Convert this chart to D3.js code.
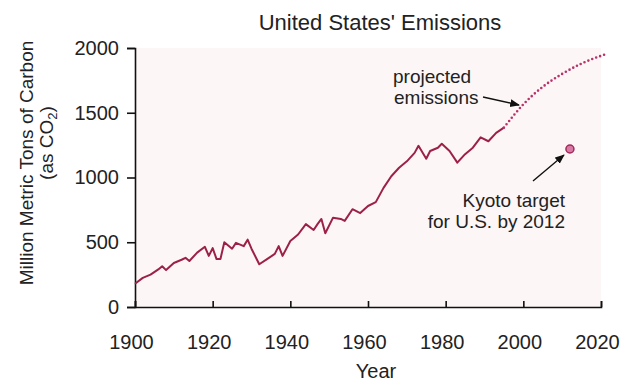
<!DOCTYPE html>
<html>
<head>
<meta charset="utf-8">
<script src="https://cdn.jsdelivr.net/npm/d3@7"></script>
<style>
  body { margin: 0; background: #fff; }
  svg text { font-family: "Liberation Sans", Arial, Helvetica, sans-serif; fill: #222; }
</style>
</head>
<body>
<svg id="chart" width="620" height="381"></svg>
<script>
// historical emissions
const years = [1900, 1902, 1904, 1906, 1907, 1908, 1910, 1912, 1913, 1914, 1916, 1918, 1919, 1920,
  1921, 1922, 1923, 1925, 1926, 1928, 1929, 1930, 1932, 1934, 1936, 1937, 1938, 1940, 1942, 1944,
  1946, 1947, 1948, 1949, 1951, 1953, 1954, 1956, 1958, 1960, 1962, 1964, 1966, 1968, 1970, 1972,
  1973, 1975, 1976, 1978, 1979, 1981, 1983, 1985, 1987, 1989, 1991, 1993, 1995];
const emissions = [180, 225, 250, 290, 315, 285, 340, 365, 380, 355, 420, 465, 395, 455,
  370, 370, 500, 450, 495, 470, 520, 450, 330, 370, 410, 470, 395, 510, 560, 640,
  595, 640, 680, 570, 690, 680, 665, 755, 725, 780, 810, 920, 1010, 1075, 1125, 1190,
  1245, 1145, 1205, 1230, 1260, 1205, 1115, 1180, 1230, 1310, 1280, 1345, 1385];

// projection (dotted)
const projYears = [1995, 2000, 2005, 2010, 2015, 2021];
const projValues = [1385, 1565, 1700, 1800, 1880, 1950];

// Kyoto target point
const kyotoYear = 2012;
const kyotoValue = 1220;

const xTicks = [1900, 1920, 1940, 1960, 1980, 2000, 2020];
const yTicks = [0, 500, 1000, 1500, 2000];

const lineColor = "#9c2147";

let svg = d3.select("#chart");

let x = d3.scaleLinear().domain([1900, 2020]).range([135, 601]);
let y = d3.scaleLinear().domain([0, 2000]).range([307, 48]);

// faint paper tint in the plot
svg.append("rect")
  .attr("x", x(1900)).attr("y", y(2000))
  .attr("width", x(2020) - x(1900)).attr("height", y(0) - y(2000))
  .attr("fill", "#fdf6f6");

// arrowhead
svg.append("defs").append("marker")
  .attr("id", "arrow")
  .attr("viewBox", "0 0 10 10")
  .attr("refX", 9).attr("refY", 5)
  .attr("markerWidth", 7).attr("markerHeight", 7)
  .attr("orient", "auto")
  .append("path")
  .attr("d", "M0,1 L10,5 L0,9 Z")
  .attr("fill", "#111");

// axes
let xAxis = d3.axisBottom(x)
  .tickValues(xTicks)
  .tickFormat(d3.format("d"))
  .tickSize(-6)
  .tickPadding(28);
let gx = svg.append("g")
  .attr("transform", `translate(0,${y(0)})`)
  .call(xAxis);
gx.selectAll(".tick text").attr("dx", -4);

let yAxis = d3.axisLeft(y)
  .tickValues(yTicks)
  .tickFormat(d3.format("d"))
  .tickSize(8)
  .tickPadding(8);
let gy = svg.append("g")
  .attr("transform", `translate(${x(1900)},0)`)
  .call(yAxis);

[gx, gy].forEach(g => {
  g.selectAll("path, line").attr("stroke", "#111").attr("stroke-width", 1.6);
  g.selectAll("text").attr("font-size", 20).attr("fill", "#222")
    .style("font-family", "'Liberation Sans', Arial, sans-serif");
});

// historical line
let data = years.map((yr, i) => ({ yr: yr, v: emissions[i] }));
let line = d3.line().x(d => x(d.yr)).y(d => y(d.v));
svg.append("path")
  .datum(data)
  .attr("d", line)
  .attr("fill", "none")
  .attr("stroke", lineColor)
  .attr("stroke-width", 2)
  .attr("stroke-linejoin", "round");

// projected dotted line
let proj = projYears.map((yr, i) => ({ yr: yr, v: projValues[i] }));
svg.append("path")
  .datum(proj)
  .attr("d", d3.line().curve(d3.curveMonotoneX).x(d => x(d.yr)).y(d => y(d.v)))
  .attr("fill", "none")
  .attr("stroke", "#b8336a")
  .attr("stroke-width", 2.6)
  .attr("stroke-linecap", "round")
  .attr("stroke-dasharray", "0 4.2");

// Kyoto dot
svg.append("circle")
  .attr("cx", x(kyotoYear)).attr("cy", y(kyotoValue))
  .attr("r", 4)
  .attr("fill", "#d77aa4")
  .attr("stroke", "#a3285a")
  .attr("stroke-width", 1.5);

// title
svg.append("text")
  .attr("x", 380).attr("y", 30)
  .attr("text-anchor", "middle")
  .attr("font-size", 22)
  .text("United States' Emissions");

// x axis title
svg.append("text")
  .attr("x", 376).attr("y", 378)
  .attr("text-anchor", "middle")
  .attr("font-size", 20)
  .text("Year");

// y axis title, two lines
svg.append("text")
  .attr("transform", "translate(33,163) rotate(-90)")
  .attr("text-anchor", "middle")
  .attr("font-size", 19)
  .text("Million Metric Tons of Carbon");
let ylab2 = svg.append("text")
  .attr("transform", "translate(53,143) rotate(-90)")
  .attr("text-anchor", "middle")
  .attr("font-size", 19);
ylab2.append("tspan").text("(as CO");
ylab2.append("tspan").attr("font-size", 13).attr("dy", 4).text("2");
ylab2.append("tspan").attr("dy", -4).text(")");

// annotations
svg.append("text")
  .attr("x", 393).attr("y", 83)
  .attr("font-size", 19)
  .text("projected");
svg.append("text")
  .attr("x", 394).attr("y", 104)
  .attr("font-size", 19)
  .text("emissions");
svg.append("line")
  .attr("x1", 483).attr("y1", 97)
  .attr("x2", 519).attr("y2", 105)
  .attr("stroke", "#111").attr("stroke-width", 1.4)
  .attr("marker-end", "url(#arrow)");

svg.append("text")
  .attr("x", 565).attr("y", 207)
  .attr("text-anchor", "end")
  .attr("font-size", 19)
  .text("Kyoto target");
svg.append("text")
  .attr("x", 565).attr("y", 228)
  .attr("text-anchor", "end")
  .attr("font-size", 19)
  .text("for U.S. by 2012");
svg.append("line")
  .attr("x1", 533).attr("y1", 181)
  .attr("x2", x(kyotoYear) - 6).attr("y2", y(kyotoValue) + 6)
  .attr("stroke", "#111").attr("stroke-width", 1.4)
  .attr("marker-end", "url(#arrow)");
</script>
</body>
</html>
